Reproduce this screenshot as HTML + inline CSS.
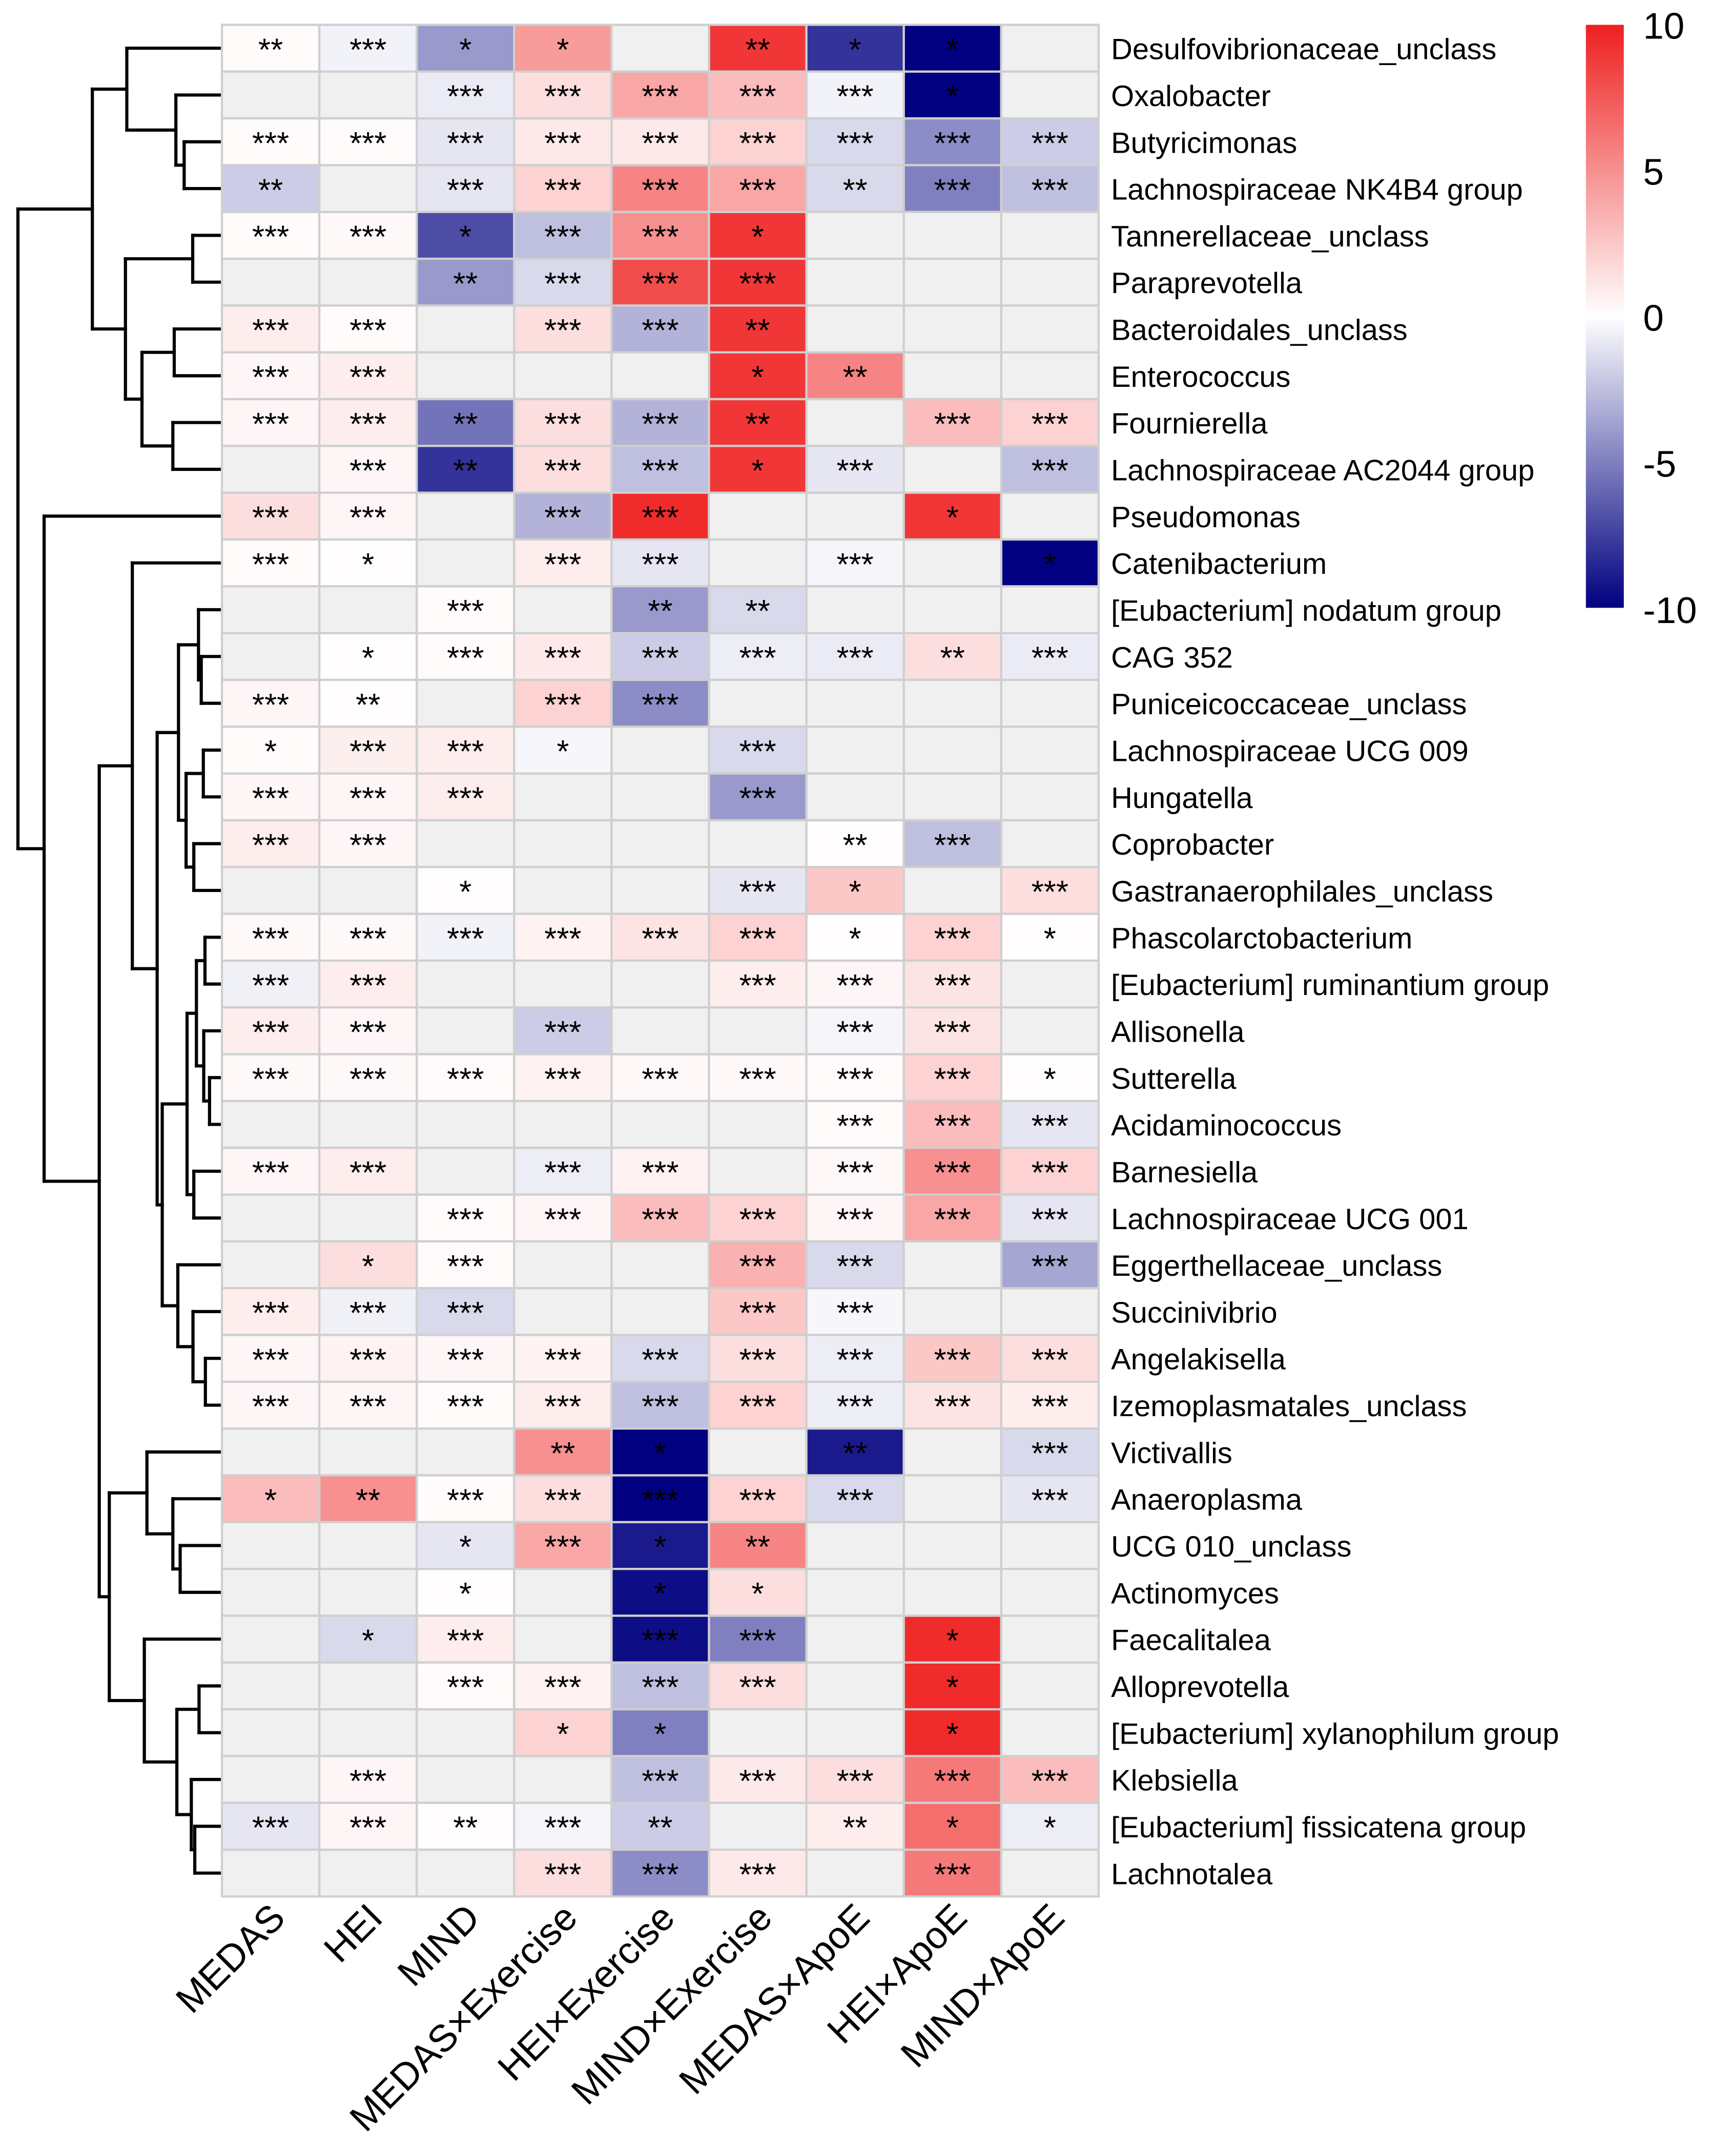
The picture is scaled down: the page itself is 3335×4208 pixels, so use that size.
<!DOCTYPE html>
<html><head><meta charset="utf-8"><style>html,body{margin:0;padding:0;background:#fff}svg{display:block}</style></head>
<body>
<svg id="chart" width="3335" height="4208" viewBox="0 0 1239.8 1564.3" preserveAspectRatio="none" xmlns="http://www.w3.org/2000/svg" font-family="'Liberation Sans', Arial, sans-serif">
<defs><linearGradient id="cb" x1="0" y1="1" x2="0" y2="0"><stop offset="0" stop-color="#000080"/><stop offset="0.5" stop-color="#ffffff"/><stop offset="1" stop-color="#EE2020"/></linearGradient></defs>
<g id="dendro"></g>
<g id="cells"></g>
<g id="rowlabels"></g>
<g id="collabels"></g>
<g>
<rect x="1150.5" y="18" width="27.5" height="423" fill="url(#cb)"/>
<text x="1192" y="28" font-size="27">10</text>
<text x="1192" y="134" font-size="27">5</text>
<text x="1192" y="240" font-size="27">0</text>
<text x="1192" y="346" font-size="27">-5</text>
<text x="1192" y="452" font-size="27">-10</text>
</g>
</svg>
<script>
const rowNames = ["Desulfovibrionaceae_unclass","Oxalobacter","Butyricimonas","Lachnospiraceae NK4B4 group","Tannerellaceae_unclass","Paraprevotella","Bacteroidales_unclass","Enterococcus","Fournierella","Lachnospiraceae AC2044 group","Pseudomonas","Catenibacterium","[Eubacterium] nodatum group","CAG 352","Puniceicoccaceae_unclass","Lachnospiraceae UCG 009","Hungatella","Coprobacter","Gastranaerophilales_unclass","Phascolarctobacterium","[Eubacterium] ruminantium group","Allisonella","Sutterella","Acidaminococcus","Barnesiella","Lachnospiraceae UCG 001","Eggerthellaceae_unclass","Succinivibrio","Angelakisella","Izemoplasmatales_unclass","Victivallis","Anaeroplasma","UCG 010_unclass","Actinomyces","Faecalitalea","Alloprevotella","[Eubacterium] xylanophilum group","Klebsiella","[Eubacterium] fissicatena group","Lachnotalea"];
const colNames = ["MEDAS","HEI","MIND","MEDAS×Exercise","HEI×Exercise","MIND×Exercise","MEDAS×ApoE","HEI×ApoE","MIND×ApoE"];
const N = null;
const values = [
[0.2,-0.5,-4,4.5,N,9,-8,-10,N],
[N,N,-0.8,1.5,4,3,-0.5,-10,N],
[0.2,0.2,-1,1,1,2,-1.5,-4.5,-2],
[-2,N,-1,2,5.5,4,-1.5,-5,-2.5],
[0.2,0.3,-7,-2.5,5,9,N,N,N],
[N,N,-4,-1.5,8,9,N,N,N],
[0.8,0.2,N,1.5,-3,9,N,N,N],
[0.4,0.8,N,N,N,9,5.5,N,N],
[0.4,0.8,-5.5,1.5,-3,9,N,3,2],
[N,0.4,-8,1.5,-2.5,9,-1,N,-2.5],
[1.5,0.4,N,-3,9.5,N,N,9,N],
[0.2,0.1,N,0.8,-1,N,-0.4,N,-10],
[N,N,0.2,N,-4,-1.5,N,N,N],
[N,0.1,0.2,1,-2,-0.7,-0.8,1.5,-0.8],
[0.4,0.1,N,2,-4.5,N,N,N,N],
[0.2,0.7,0.8,-0.3,N,-1.5,N,N,N],
[0.4,0.4,0.8,N,N,-4,N,N,N],
[0.8,0.4,N,N,N,N,0.1,-2.5,N],
[N,N,0.1,N,N,-1,2.5,N,1.5],
[0.3,0.3,-0.5,0.6,1.2,2,0.1,2,0.1],
[-0.6,0.8,N,N,N,0.8,0.4,1.2,N],
[0.8,0.4,N,-2,N,N,-0.4,1.2,N],
[0.3,0.3,0.2,0.6,0.3,0.3,0.2,2,0.1],
[N,N,N,N,N,N,0.2,3,-1],
[0.4,0.8,N,-0.7,0.6,N,0.3,5,2],
[N,N,0.2,0.4,3,2,0.4,4,-1],
[N,1.5,0.2,N,N,3.5,-1.5,N,-3.5],
[0.8,-0.6,-1.5,N,N,2.5,-0.3,N,N],
[0.4,0.6,0.4,0.6,-1.5,1.5,-0.7,2.5,1.5],
[0.4,0.4,0.2,0.8,-2.5,2,-0.7,1.2,0.8],
[N,N,N,5,-10,N,-9,N,-1.5],
[3,5,0.2,1.5,-10,2,-1.5,N,-1],
[N,N,-1,4,-9,5.5,N,N,N],
[N,N,0.1,N,-9.5,1.5,N,N,N],
[N,-1.5,0.8,N,-9.5,-5,N,9.5,N],
[N,N,0.2,0.6,-2.5,1.5,N,9.5,N],
[N,N,N,2,-5,N,N,9.5,N],
[N,0.4,N,N,-2.5,1,1.5,6,3],
[-1,0.4,0.1,-0.4,-2,N,0.8,6.5,-0.7],
[N,N,N,1.5,-4.5,1,N,6,N]
];
const stars = [
["**","***","*","*","","**","*","*",""],
["","","***","***","***","***","***","*",""],
["***","***","***","***","***","***","***","***","***"],
["**","","***","***","***","***","**","***","***"],
["***","***","*","***","***","*","","",""],
["","","**","***","***","***","","",""],
["***","***","","***","***","**","","",""],
["***","***","","","","*","**","",""],
["***","***","**","***","***","**","","***","***"],
["","***","**","***","***","*","***","","***"],
["***","***","","***","***","","","*",""],
["***","*","","***","***","","***","","*"],
["","","***","","**","**","","",""],
["","*","***","***","***","***","***","**","***"],
["***","**","","***","***","","","",""],
["*","***","***","*","","***","","",""],
["***","***","***","","","***","","",""],
["***","***","","","","","**","***",""],
["","","*","","","***","*","","***"],
["***","***","***","***","***","***","*","***","*"],
["***","***","","","","***","***","***",""],
["***","***","","***","","","***","***",""],
["***","***","***","***","***","***","***","***","*"],
["","","","","","","***","***","***"],
["***","***","","***","***","","***","***","***"],
["","","***","***","***","***","***","***","***"],
["","*","***","","","***","***","","***"],
["***","***","***","","","***","***","",""],
["***","***","***","***","***","***","***","***","***"],
["***","***","***","***","***","***","***","***","***"],
["","","","**","*","","**","","***"],
["*","**","***","***","***","***","***","","***"],
["","","*","***","*","**","","",""],
["","","*","","*","*","","",""],
["","*","***","","***","***","","*",""],
["","","***","***","***","***","","*",""],
["","","","*","*","","","*",""],
["","***","","","***","***","***","***","***"],
["***","***","**","***","**","","**","*","*"],
["","","","***","***","***","","***",""]
];
const treeTop = [67,[92,1,[127.6,2,[133.6,3,4]]],[91,[139.8,5,6],[103,[126.4,7,8],[125.4,9,10]]]];
const treeBottom = [32,11,[72,[96,12,[114,[129.5,[144,13,[146,14,15]],[135,[147.5,16,17],[140.6,18,19]]],[117.7,[135.7,[142.5,[148.7,20,21],[147.8,22,[152,23,24]]],[140.6,25,26]],[129,27,[140,28,[149,29,30]]]]]],[79.3,[106.6,31,[125.4,32,[130.7,33,34]]],[104.7,35,[128.3,[144.4,36,37],[138.8,38,[141.3,39,40]]]]]]];
const tree = [13,treeTop,treeBottom];

const NS="http://www.w3.org/2000/svg";
const X0=161,X1=797,Y0=18,Y1=1376;
const cw=(X1-X0)/colNames.length, ch=(Y1-Y0)/rowNames.length;
function xPos(c){return X0+c*cw;}
function yPos(r){return Y0+r*ch;}
function mix(a,b,t){return a.map((v,i)=>Math.round(v+(b[i]-v)*t));}
function color(v){
  if(v===null) return "#F0F0F0";
  const t=Math.max(-10,Math.min(10,v))/10;
  const c=t>=0?mix([255,255,255],[238,32,32],t):mix([255,255,255],[0,0,128],-t);
  return "rgb("+c.join(",")+")";
}
function mk(tag,attrs,parent){const e=document.createElementNS(NS,tag);for(const k in attrs)e.setAttribute(k,attrs[k]);parent.appendChild(e);return e;}
const cells=document.getElementById("cells");
for(let r=0;r<rowNames.length;r++){
  for(let c=0;c<colNames.length;c++){
    const rect=mk("rect",{x:xPos(c),y:yPos(r),width:cw,height:ch,fill:color(values[r][c]),stroke:"#CFCFCF","stroke-width":1.6},cells);
    
    
    if(stars[r][c]){
      const t=mk("text",{x:xPos(c)+cw/2,y:yPos(r)+ch/2+9,"text-anchor":"middle","font-size":23,fill:"#000"},cells);
      t.textContent=stars[r][c];
      
      
    }
  }
}
const rl=document.getElementById("rowlabels");
rowNames.forEach((n,r)=>{
  const t=mk("text",{x:806,y:yPos(r)+ch/2+8,"font-size":21.5,fill:"#000"},rl);
  t.textContent=n;
  
  
});
const cl=document.getElementById("collabels");
colNames.forEach((n,c)=>{
  const cx=xPos(c)+cw/2+12, cy=1393;
  const t=mk("text",{x:cx,y:cy,"font-size":27.5,"text-anchor":"end",transform:"rotate(-45 "+cx+" "+cy+")",fill:"#000"},cl);
  t.textContent=n;
  
  
});
const dg=document.getElementById("dendro");
function line(x1,y1,x2,y2){
  const l=mk("line",{x1:x1,y1:y1,x2:x2,y2:y2,stroke:"#000","stroke-width":2.3,"stroke-linecap":"square"},dg);
  
  
}
function draw(node){
  if(typeof node==="number") return {y:yPos(node-1)+ch/2,x:X0};
  const x=node[0];
  const a=draw(node[1]), b=draw(node[2]);
  line(x,a.y,x,b.y);
  line(x,a.y,a.x,a.y);
  line(x,b.y,b.x,b.y);
  return {y:(a.y+b.y)/2,x:x};
}
draw(tree);
</script>
</body></html>
